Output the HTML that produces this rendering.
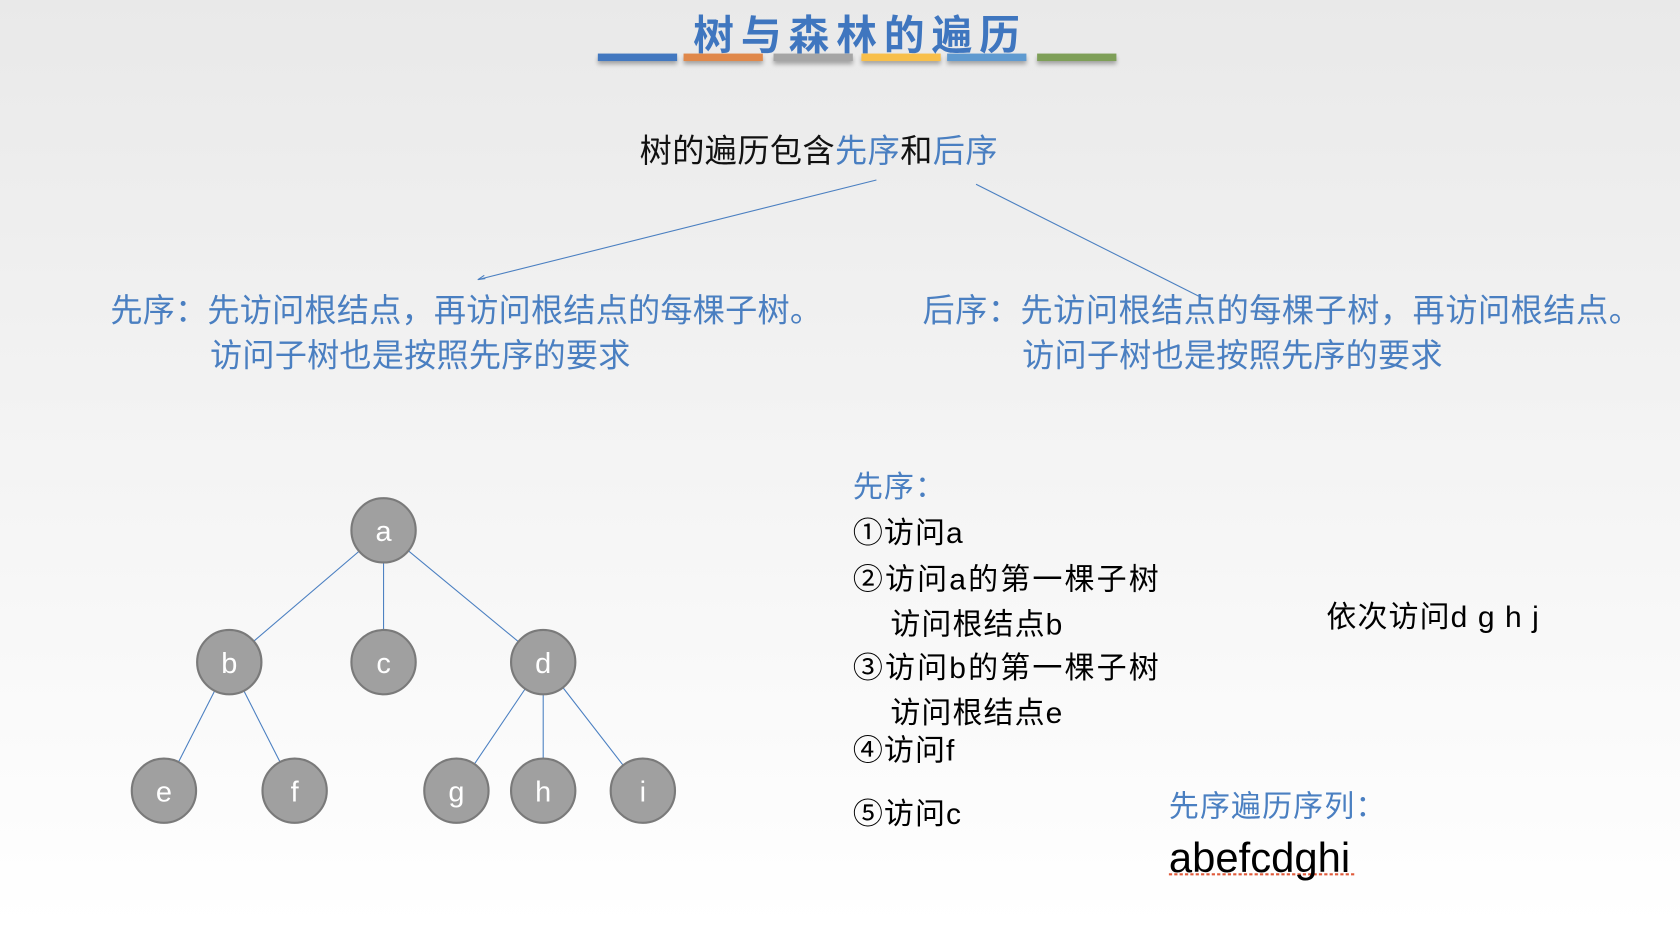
<!DOCTYPE html>
<html><head><meta charset="utf-8"><style>
html,body{margin:0;padding:0;width:1680px;height:926px;overflow:hidden}
body{background:linear-gradient(#e9e9e9,#f4f4f4 50%,#ffffff);font-family:"Liberation Sans","Noto Sans CJK SC",sans-serif}
#w{position:absolute;left:0;top:0;width:1568px;height:864px;transform:scale(1.0714);transform-origin:0 0}
.t{position:absolute;white-space:nowrap;line-height:1}
.b{color:#4a7fc1}
.n{letter-spacing:1px}
.bar{position:absolute;top:50px;height:7px;width:74px;box-shadow:0 3px 4px rgba(0,0,0,.3)}
</style></head><body><div id="w">
<div class="bar" style="left:558px;background:#4278c0"></div>
<div class="bar" style="left:638px;background:#e0884a"></div>
<div class="bar" style="left:722px;background:#a5a5a5"></div>
<div class="bar" style="left:804px;background:#f8bf4a"></div>
<div class="bar" style="left:884px;background:#5f9ad0"></div>
<div class="bar" style="left:968px;background:#7e9f58"></div>
<div class="t" style="left:647px;top:15px;font-size:38px;font-weight:bold;color:#3f76bf;letter-spacing:6.5px">树与森林的遍历</div>
<div class="t" style="left:597px;top:127px;font-size:30px;color:#111;letter-spacing:0.4px">树的遍历包含<span class="b">先序</span>和<span class="b">后序</span></div>
<svg style="position:absolute;left:0;top:0" width="1568" height="864">
<g stroke="#4a7fc1" stroke-width="1" fill="none">
<line x1="818" y1="168" x2="446" y2="261"/>
<path d="M452 257 L446 261 L453 260" />
<line x1="911" y1="172" x2="1122" y2="278"/>
<line x1="358" y1="495" x2="214" y2="618"/>
<line x1="358" y1="495" x2="358" y2="618"/>
<line x1="358" y1="495" x2="507" y2="618"/>
<line x1="214" y1="618" x2="153" y2="738"/>
<line x1="214" y1="618" x2="275" y2="738"/>
<line x1="507" y1="618" x2="426" y2="738"/>
<line x1="507" y1="618" x2="507" y2="738"/>
<line x1="507" y1="618" x2="600" y2="738"/>
</g>
<g fill="#a0a0a0" stroke="#7a7a7a" stroke-width="2">
<circle cx="358" cy="495" r="30"/><circle cx="214" cy="618" r="30"/><circle cx="358" cy="618" r="30"/><circle cx="507" cy="618" r="30"/>
<circle cx="153" cy="738" r="30"/><circle cx="275" cy="738" r="30"/><circle cx="426" cy="738" r="30"/><circle cx="507" cy="738" r="30"/><circle cx="600" cy="738" r="30"/>
</g>
<g fill="#fff" font-size="27" text-anchor="middle" font-family="Liberation Sans">
<text x="358" y="505">a</text><text x="214" y="628">b</text><text x="358" y="628">c</text><text x="507" y="628">d</text>
<text x="153" y="748">e</text><text x="275" y="748">f</text><text x="426" y="748">g</text><text x="507" y="748">h</text><text x="600" y="748">i</text>
</g>
<line x1="1091" y1="816" x2="1266" y2="816" stroke="#e05a3a" stroke-width="2" stroke-dasharray="3,2"/>
</svg>
<div class="t b" style="left:103px;top:276px;font-size:30px;letter-spacing:0.2px">先序：先访问根结点，再访问根结点的每棵子树。</div>
<div class="t b" style="left:196px;top:318px;font-size:30px;letter-spacing:0.2px">访问子树也是按照先序的要求</div>
<div class="t b" style="left:861px;top:276px;font-size:30px;letter-spacing:0.5px">后序：先访问根结点的每棵子树，再访问根结点。</div>
<div class="t b" style="left:954px;top:318px;font-size:30px;letter-spacing:0.2px">访问子树也是按照先序的要求</div>
<div class="t b n" style="left:796px;top:441px;font-size:28px">先序：</div>
<div class="t n" style="left:796px;top:484px;font-size:28px">①访问a</div>
<div class="t n" style="left:796px;top:527px;font-size:28px;letter-spacing:2px">②访问a的第一棵子树</div>
<div class="t n" style="left:831px;top:569px;font-size:28px">访问根结点b</div>
<div class="t n" style="left:796px;top:610px;font-size:28px;letter-spacing:2px">③访问b的第一棵子树</div>
<div class="t n" style="left:831px;top:652px;font-size:28px">访问根结点e</div>
<div class="t n" style="left:796px;top:687px;font-size:28px">④访问f</div>
<div class="t n" style="left:796px;top:746px;font-size:28px">⑤访问c</div>
<div class="t n" style="left:1238px;top:562px;font-size:28px">依次访问d g h j</div>
<div class="t b n" style="left:1091px;top:739px;font-size:28px">先序遍历序列：</div>
<div class="t" style="left:1091px;top:782px;font-size:39px">abefcdghi</div>
</div></body></html>
